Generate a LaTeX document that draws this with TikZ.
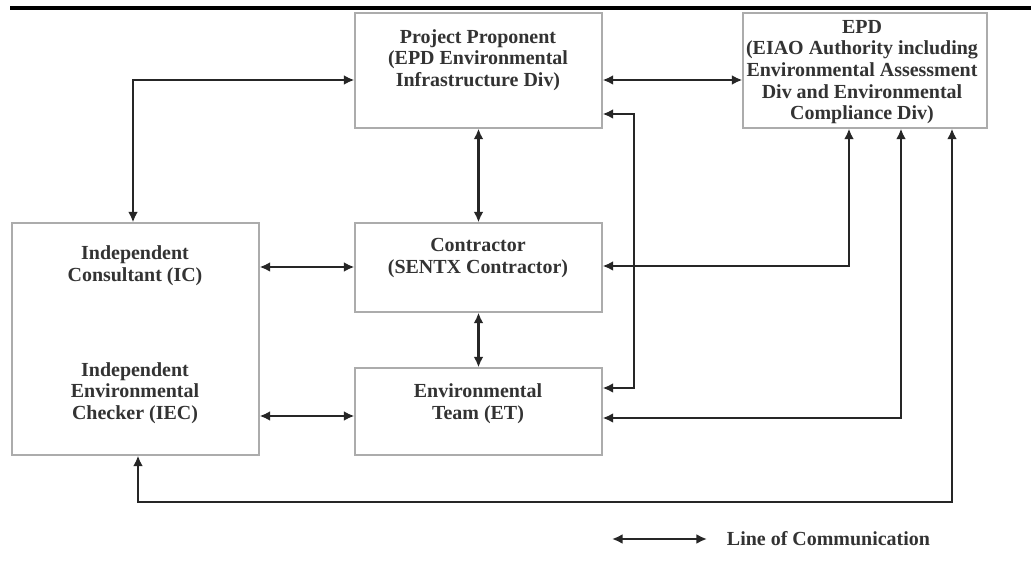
\documentclass[tikz,border=0pt]{standalone}
\usepackage{fontspec}
\setmainfont{Liberation Serif}
\usetikzlibrary{arrows.meta}

\begin{document}
\begin{tikzpicture}[box/.style={draw=gray!65,line width=0.9pt,minimum width=6.175cm},
		txt/.style={align=center,text=black!80,font=\bfseries\fontsize{14.2}{15.4}\selectfont},
		comm/.style={{Latex[length=7.5pt,width=7pt]}-{Latex[length=7.5pt,width=7pt]},line width=1.7pt,draw=black!85}]
		\useasboundingbox (0,0) rectangle (25.775,14.4);
		\fill[white] (0,0) rectangle (25.775,14.4);
		\draw[line width=2.8pt] (0.25,14.2) -- (25.775,14.2);

		\node[box,minimum height=2.875cm] (pp) at (11.9625,12.6375) {};
		\node[txt] (ppT) at (11.95,12.9) {Project Proponent\\(EPD Environmental\\Infrastructure Div)};

		\node[box,minimum width=6.1cm,minimum height=2.875cm] (epd) at (21.625,12.6375) {};
		\node[txt] (epdT) at (21.55,12.6) {EPD\\(EIAO Authority including\\Environmental Assessment\\Div and Environmental\\Compliance Div)};

		\node[box,minimum height=5.8cm] (ic) at (3.3875,5.925) {};
		\node[txt] (icT) at (3.375,7.75) {Independent\\Consultant (IC)};
		\node[txt] (iecT) at (3.375,4.575) {Independent\\Environmental\\Checker (IEC)};

		\node[box,minimum height=2.225cm] (con) at (11.9625,7.7125) {};
		\node[txt] (conT) at (11.95,7.95) {Contractor\\(SENTX Contractor)};

		\node[box,minimum height=2.175cm] (et) at (11.9625,4.1125) {};
		\node[txt] (etT) at (11.95,4.3) {Environmental\\Team (ET)};

		\coordinate (r1) at (3.325,12.4);
		\coordinate (r2) at (0,7.725);
		\coordinate (r3) at (0,4.0);
		\coordinate (b1) at (15.85,11.55);
		\coordinate (b2) at (15.85,4.7);
		\coordinate (b3) at (21.225,7.75);
		\coordinate (b4) at (22.525,3.95);
		\coordinate (b5) at (23.8,1.85);
		\coordinate (b6) at (3.45,1.85);

		\draw[comm] (ic.north -| r1) |- (pp.west |- r1);
		\draw[comm] (pp.east |- r1) -- (epd.west |- r1);
		\draw[comm] (pp.south) -- (con.north);
		\draw[comm] (con.south) -- (et.north);
		\draw[comm] (ic.east |- r2) -- (con.west |- r2);
		\draw[comm] (ic.east |- r3) -- (et.west |- r3);
		\draw[comm] (pp.east |- b1) -- (b1) -- (b2) -- (et.east |- b2);
		\draw[comm] (epd.south -| b3) |- (con.east |- b3);
		\draw[comm] (epd.south -| b4) |- (et.east |- b4);
		\draw[comm] (epd.south -| b5) -- (b5) -- (b6) -- (ic.south -| b6);

		% legend
		\coordinate (l1) at (15.3,0.925);
		\coordinate (l2) at (17.675,0.925);
		\draw[comm] (l1) -- (l2);
		\node[txt,anchor=west] (legT) at (18.05,0.925) {Line of Communication};
\end{tikzpicture}
\end{document}
